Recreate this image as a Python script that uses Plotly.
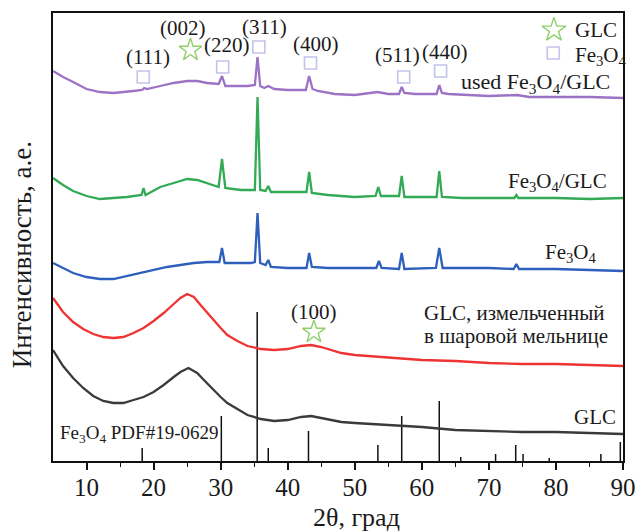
import plotly.graph_objects as go

# ---------------- data (2θ in degrees, intensity in arbitrary units) ----------------
purple_x = [5, 6.5, 8, 10, 12, 14, 17, 18.3, 18.6, 19, 21, 23, 25, 26.5, 28, 29.7, 30.2, 30.7, 32, 34,
            35.1, 35.5, 35.9, 36.5, 37.1, 38, 40, 42.7, 43.2, 43.7, 44.5, 47, 50, 53.4, 55, 56.6, 57.0,
            57.4, 59, 62.2, 62.6, 63.0, 64, 67, 70, 74.2, 76, 80, 85, 90]
purple_y = [390, 384, 379, 372, 369, 368, 370, 371, 373, 372, 375, 378, 380, 380, 378, 377, 385, 375, 375, 375,
            376, 404, 375, 373, 375, 372, 371, 371, 385, 372, 370, 367, 366, 369, 367, 367, 374,
            368, 367, 367, 376, 368, 367, 366, 365, 366, 364, 364, 364, 363]

green_x = [5, 6.5, 8, 10, 12, 14, 16, 18.2, 18.5, 18.8, 21, 23, 25, 26.5, 28, 29.7, 30.2, 30.7, 33, 35.1,
           35.5, 35.9, 36.7, 37.1, 37.5, 40, 42.8, 43.2, 43.6, 46, 50, 53.1, 53.5, 53.9, 56.6, 57.0, 57.4,
           62.2, 62.6, 63.0, 66, 70, 73.8, 74.1, 74.4, 80, 85, 90]
green_y = [283, 276, 270, 265, 262, 263, 264, 266, 273, 266, 274, 278, 282, 281, 278, 274, 302, 273, 271, 271,
           364, 271, 270, 275, 269, 269, 269, 289, 268, 266, 264, 265, 274, 265, 265, 285, 264,
           264, 290, 264, 263, 263, 263, 266, 263, 263, 262, 263]

blue_x = [5, 6.5, 8, 10, 12, 14, 16, 18.5, 20, 22, 24, 26, 28, 29.8, 30.2, 30.6, 32, 34.5, 35.1, 35.5,
          35.9, 36.7, 37.1, 37.5, 40, 42.8, 43.2, 43.6, 46, 50, 53.2, 53.6, 54, 56.6, 57.0, 57.4, 62.1,
          62.6, 63.1, 66, 70, 73.7, 74.1, 74.5, 80, 85, 90]
blue_y = [198, 193, 188, 184, 182, 182, 185, 189, 191, 194, 196, 198, 199, 199, 213, 198, 198, 198, 199, 248,
          198, 196, 201, 194, 193, 193, 208, 194, 193, 193, 193, 200, 193, 192, 208, 192, 193,
          213, 193, 193, 193, 192, 197, 192, 192, 191, 190]

red_x = [5, 6.5, 8, 9.5, 11, 12.5, 14, 15.5, 17, 18.5, 20, 21.5, 23, 24, 25, 26, 27, 28.5, 30, 31, 32.5,
         34, 36, 38, 40, 42, 43.5, 45, 46.5, 48, 50, 52, 55, 60, 65, 70, 75, 80, 85, 90]
red_y = [163, 149, 139, 132, 127, 124, 123, 124, 128, 133, 140, 148, 157, 163, 167, 164, 156, 144, 133, 126, 120,
         115, 112, 111, 112, 115, 116, 114, 111, 108, 106, 105, 103, 101, 100, 98, 97, 97, 96, 95]

black_x = [5, 6.5, 8, 9.5, 11, 12.5, 14, 15.5, 17, 18.5, 20, 21.5, 23, 24, 25.2, 26.5, 27.5, 28.5, 30, 31,
           32.5, 34, 36, 38, 40, 42, 43.5, 45, 46.5, 48, 50, 55, 60, 65, 70, 75, 80, 85, 90]
black_y = [111, 95, 83, 73, 65, 60, 58, 58, 61, 64, 69, 76, 84, 89, 93, 88, 81, 74, 64, 58,
           52, 46, 42, 40, 41, 44, 45, 43, 41, 39, 38, 36, 34, 31, 30, 29, 29, 28, 27]

# Fe3O4 reference pattern PDF#19-0629 (stick positions / heights)
pdf_pos = [18.3, 30.1, 35.45, 37.1, 43.1, 53.45, 57.0, 62.6, 65.8, 71.0, 74.0, 75.1, 79.0, 86.7, 89.6]
pdf_int = [13, 45, 149, 13, 30, 16, 45, 60, 4, 7, 16, 7, 3, 7, 19]

# Miller-index labels
fe_hkl = ["(111)", "(220)", "(311)", "(400)", "(511)", "(440)"]
fe_mark_x = [18.46, 30.3, 35.7, 43.4, 57.3, 62.8]
fe_mark_y = [384, 394, 414, 398, 384, 390]
fe_label_x = [19.1, 31.0, 36.5, 44.2, 56.4, 63.4]
fe_label_y = [404, 416, 434, 417, 406, 409]

glc_hkl = ["(002)", "(100)"]
glc_mark_x = [25.5, 43.9]
glc_mark_y = [411, 129]
glc_label_x = [24.4, 43.9]
glc_label_y = [433, 149]

FONT = "Liberation Serif"
TXT = "#1a1a1a"
SQ_COL = "#c3c3ec"
STAR_COL = "#8fcf6a"

fig = go.Figure()

# reference sticks, drawn as vertical segments from the baseline
stick_x, stick_y = [], []
for p, h in zip(pdf_pos, pdf_int):
    stick_x += [p, p, None]
    stick_y += [0, h, None]
fig.add_trace(go.Scatter(x=stick_x, y=stick_y, mode="lines", line=dict(color="#111111", width=1.5),
                         showlegend=False, hoverinfo="skip"))

series = [
    (black_x, black_y, "#3a3a3a"),
    (red_x, red_y, "#ee3333"),
    (blue_x, blue_y, "#2d5fbd"),
    (green_x, green_y, "#33aa55"),
    (purple_x, purple_y, "#9b72c4"),
]
for xs, ys, col in series:
    fig.add_trace(go.Scatter(x=xs, y=ys, mode="lines", line=dict(color=col, width=2.3),
                             showlegend=False, hoverinfo="skip"))

# Fe3O4 markers
fig.add_trace(go.Scatter(x=fe_mark_x, y=fe_mark_y, mode="markers",
                         marker=dict(symbol="square-open", size=12, color=SQ_COL, line=dict(width=1.6, color=SQ_COL)),
                         showlegend=False, hoverinfo="skip"))
# GLC markers
fig.add_trace(go.Scatter(x=glc_mark_x, y=glc_mark_y, mode="markers",
                         marker=dict(symbol="star-open", size=17, color=STAR_COL, line=dict(width=1.4, color=STAR_COL)),
                         showlegend=False, hoverinfo="skip"))
# legend symbols
fig.add_trace(go.Scatter(x=[79.7], y=[431], mode="markers",
                         marker=dict(symbol="star-open", size=18, color=STAR_COL, line=dict(width=1.4, color=STAR_COL)),
                         showlegend=False, hoverinfo="skip"))
fig.add_trace(go.Scatter(x=[79.6], y=[408], mode="markers",
                         marker=dict(symbol="square-open", size=12, color=SQ_COL, line=dict(width=1.6, color=SQ_COL)),
                         showlegend=False, hoverinfo="skip"))

ann = []
def add_text(x, y, text, xanchor="center", size=21):
    ann.append(dict(x=x, y=y, xref="x", yref="y", text=text, showarrow=False, xanchor=xanchor,
                    yanchor="middle", font=dict(family=FONT, size=size, color=TXT)))

for lx, ly, t in zip(fe_label_x, fe_label_y, fe_hkl):
    add_text(lx, ly, t)
for lx, ly, t in zip(glc_label_x, glc_label_y, glc_hkl):
    add_text(lx, ly, t)

add_text(82.6, 431, "GLC", xanchor="left")
add_text(82.6, 405, "Fe<sub>3</sub>O<sub>4</sub>", xanchor="left")
add_text(88.3, 378, "used Fe<sub>3</sub>O<sub>4</sub>/GLC", xanchor="right", size=22)
add_text(87.9, 279, "Fe<sub>3</sub>O<sub>4</sub>/GLC", xanchor="right")
add_text(86.4, 208, "Fe<sub>3</sub>O<sub>4</sub>", xanchor="right")
add_text(60.1, 148, "GLC, измельченный", xanchor="left")
add_text(60.1, 125, "в шаровой мельнице", xanchor="left")
add_text(89.3, 44, "GLC", xanchor="right")
add_text(5.8, 27, "Fe<sub>3</sub>O<sub>4</sub> PDF#19-0629", xanchor="left", size=19)

# axis titles
ann.append(dict(x=-0.054, y=0.46, xref="paper", yref="paper", text="Интенсивность, а.е.", textangle=-90,
                showarrow=False, xanchor="center", yanchor="middle", font=dict(family=FONT, size=27, color=TXT)))
ann.append(dict(x=0.532, y=-0.126, xref="paper", yref="paper", text="2θ, град",
                showarrow=False, xanchor="center", yanchor="middle", font=dict(family=FONT, size=26, color=TXT)))

fig.update_layout(
    width=637, height=531,
    margin=dict(l=53, r=14, t=13, b=70, autoexpand=False),
    paper_bgcolor="white", plot_bgcolor="white",
    annotations=ann,
    xaxis=dict(range=[5, 90], tickvals=[10, 20, 30, 40, 50, 60, 70, 80, 90], ticks="outside", ticklen=7,
               tickwidth=1.5, tickcolor="#111", showline=True, linecolor="#111", linewidth=2, mirror=True,
               showgrid=False, zeroline=False, ticklabelstandoff=-4,
               tickfont=dict(family=FONT, size=25, color=TXT),
               minor=dict(tickvals=[15, 25, 35, 45, 55, 65, 75, 85], ticks="outside", ticklen=4,
                          tickwidth=1.2, tickcolor="#111")),
    yaxis=dict(range=[0, 448], showticklabels=False, ticks="", showline=True, linecolor="#111", linewidth=2,
               mirror=True, showgrid=False, zeroline=False),
)

fig.write_html("out.html", config={"displayModeBar": False},
               post_script="document.body.style.margin='0px';document.body.style.overflow='hidden';")
